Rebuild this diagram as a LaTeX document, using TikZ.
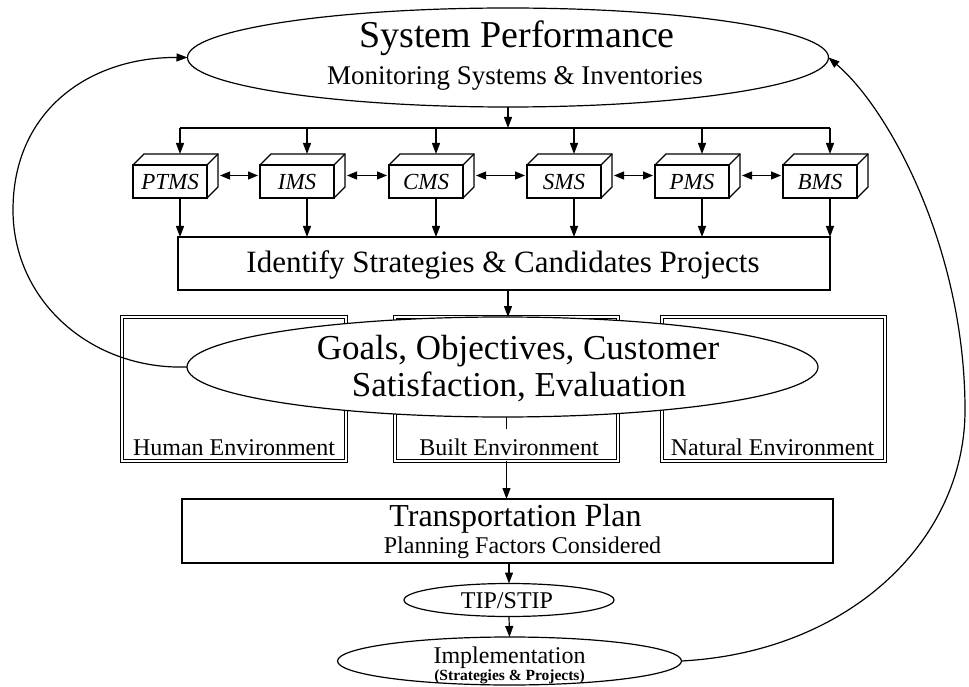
\documentclass[tikz,border=0pt]{standalone}
\usepackage{fontspec}
\setmainfont{Liberation Serif}
\usetikzlibrary{arrows.meta,calc,shapes.geometric}
\newcommand{\myfs}[1]{\fontsize{#1pt}{#1pt}\selectfont}
\begin{document}
\begin{tikzpicture}[x=1pt,y=-1pt, line width=1.2pt,
  arr/.style={-{Triangle[length=11pt,width=8pt]}},
  darr/.style={{Triangle[length=10pt,width=8pt]}-{Triangle[length=10pt,width=8pt]}},
  ell/.style={draw, ellipse, fill=white, inner sep=0pt, outer sep=0pt},
  box/.style={draw, rectangle, inner sep=0pt, outer sep=0pt},
  msbox/.style={box, fill=white, minimum width=74pt, minimum height=33pt},
  envbox/.style={draw, double, double distance=2.4pt, line width=1pt, inner sep=0pt, outer sep=0pt},
  txt/.style={inner sep=0pt, outer sep=0pt, anchor=base}
]
\useasboundingbox (0,0) rectangle (969,687);

% top ellipse
\node[ell, minimum width=641pt, minimum height=99pt] (topell) at (508,57.5) {};
\node[txt] (sptitle) at (517,48) {\myfs{38}System Performance};
\node[txt] (spsub) at (515,85) {\myfs{27}Monitoring Systems \& Inventories};

% bus
\coordinate (busL) at (180,128);
\coordinate (busR) at (830,128);
\draw (busL) -- (busR);
\draw[arr] (topell.south) -- (topell.south |- busL);

% identify box
\node[box, minimum width=652pt, minimum height=53pt] (ident) at (504,263.5) {};
\node[txt] (identl) at (503,272) {\myfs{31}Identify Strategies \& Candidates Projects};

% management system boxes
\foreach \n/\x/\t in {ptms/170/PTMS, ims/297/IMS, cms/426/CMS, sms/564/SMS, pms/692/PMS, bms/820/BMS}{
  \node[msbox] (\n) at (\x,181.5) {};
  \draw[line join=miter] (\n.north west) -- ++(11,-11) -- ($(\n.north east)+(11,-11)$) -- ($(\n.south east)+(11,-11)$) -- (\n.south east);
  \draw (\n.north east) -- ++(11,-11);
  \node[txt] (\n-l) at ($(\n.center)+(0,8.5)$) {\myfs{23}\itshape \t};
  \coordinate (\n-t) at ($(\n.north)+(10,-11)$);
  \coordinate (\n-b) at ($(\n.south)+(10,0)$);
  \draw[arr] (\n-t |- busL) -- (\n-t);
  \draw[arr] (\n-b) -- (\n-b |- ident.north);
}
\foreach \a/\b in {ptms/ims, ims/cms, cms/sms, sms/pms, pms/bms}{
  \draw[darr] ($(\a.east)+(13,-6)$) -- ($(\b.west)+(-2,-6)$);
}

% environment boxes
\node[envbox, minimum width=223.6pt, minimum height=143.6pt] (human) at (234,389) {};
\node[envbox, minimum width=222.6pt, minimum height=143.6pt] (builtenv) at (506.5,389) {};
\node[envbox, minimum width=222.6pt, minimum height=143.6pt] (natural) at (773.5,389) {};
\node[txt] (humanl) at (234,455) {\myfs{24}Human Environment};
\node[txt] (builtl) at (509,455) {\myfs{24}Built Environment};
\node[txt] (naturall) at (772.5,455) {\myfs{24}Natural Environment};

% goals ellipse
\node[ell, minimum width=631pt, minimum height=100pt] (goals) at (502.5,367) {};
\node[txt] (goals1) at (518,359) {\myfs{35}Goals, Objectives, Customer};
\node[txt] (goals2) at (519,396) {\myfs{35}Satisfaction, Evaluation};
\draw[arr] (ident.south -| topell.south) -- (goals.north -| topell.south);
\draw (goals.south -| builtenv.south) -- ++(0,12);

% transportation plan
\node[box, minimum width=651pt, minimum height=64pt] (transp) at (507.5,531) {};
\node[txt] (transp1) at (515.5,526) {\myfs{32}Transportation Plan};
\node[txt] (transp2) at (522.5,553) {\myfs{24}Planning Factors Considered};
\draw[arr] (builtenv.south) -- (builtenv.south |- transp.north);

% TIP/STIP
\node[ell, minimum width=210pt, minimum height=33pt] (tip) at (509,600) {};
\node[txt] (tipl) at (507,608) {\myfs{24}TIP/STIP};
\draw[arr] (transp.south -| tip.north) -- (tip.north);

% implementation
\node[ell, minimum width=344pt, minimum height=48pt] (impl) at (509.5,661) {};
\node[txt] (impl1) at (509.5,663) {\myfs{24}Implementation};
\node[txt] (impl2) at (509.5,680) {\myfs{15.5}\bfseries (Strategies \& Projects)};
\draw[arr] (tip.south) -- (impl.north);

% feedback curves
\draw[arr] (goals.west) .. controls (90,370) and (13,300) .. (13,210) .. controls (13,110) and (90,57) .. (topell.west);
\draw[arr] (impl.east) .. controls (850,652) and (965,540) .. (965,410) .. controls (965,250) and (890,110) .. (topell.east);
\end{tikzpicture}
\end{document}
